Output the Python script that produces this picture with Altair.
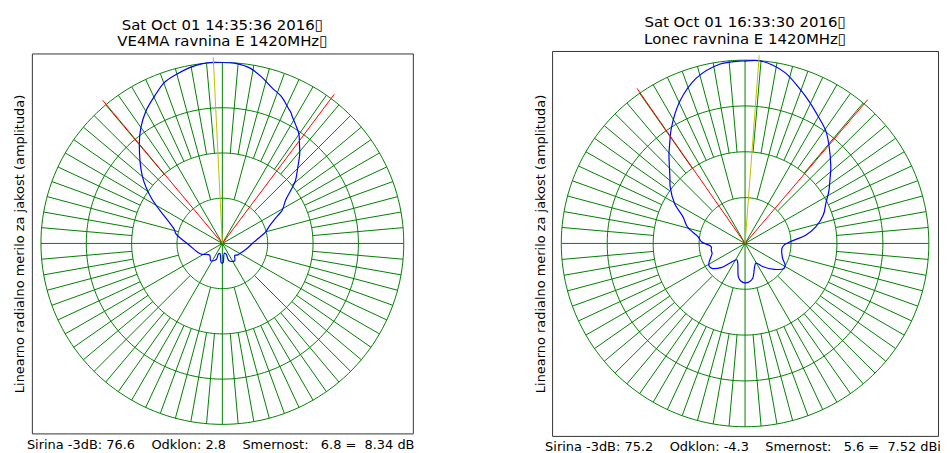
import altair as alt
import numpy as np
import pandas as pd

# ---------------- data ----------------
YLABEL = "Linearno radialno merilo za jakost (amplituda)"

left_title = ["Sat Oct 01 14:35:36 2016\u25af", "VE4MA ravnina E 1420MHz\u25af"]
left_stats = "Sirina -3dB: 76.6\u00a0\u00a0\u00a0\u00a0Odklon: 2.8\u00a0\u00a0\u00a0\u00a0Smernost:\u00a0\u00a0\u00a06.8 =\u00a0\u00a08.34 dB"
# angle in degrees, clockwise from north; r in linear amplitude units (0..4)
left_theta = [0, 4.2, 9.1, 13.5, 17.7, 21.8, 26.3, 27.5, 28.6, 31.4, 34.9, 37.7, 40.8, 44.6,
              49.2, 51.0, 55.6, 60.9, 63.4, 70.3, 74.9, 81.2, 90, 101, 112.6, 127.9, 133.5,
              144.6, 159.3, 160.5, 168.7, 178, 183, 193, 200, 201, 214, 227.4, 243.8, 267,
              282, 286, 302.5, 309.8, 320.2, 325, 330.1, 336, 340.2, 344.6, 349.3, 353.7,
              357.2, 360]
left_r = [4.00, 3.99, 3.92, 3.77, 3.61, 3.50, 3.31, 3.27, 3.21, 3.09, 2.95, 2.78, 2.61, 2.37,
          2.13, 2.00, 1.69, 1.51, 1.36, 1.09, 0.99, 0.82, 0.66, 0.56, 0.48, 0.42, 0.38,
          0.47, 0.41, 0.25, 0.22, 0.43, 0.43, 0.23, 0.25, 0.38, 0.46, 0.38, 0.53, 0.73,
          1.05, 1.10, 1.85, 2.29, 2.86, 3.13, 3.38, 3.61, 3.78, 3.87, 3.95, 4.00,
          4.01, 4.00]
left_max_angle = -2.8          # yellow line (Odklon 2.8, to the left)
left_red_angles = [-39.8, 36.8]  # -3 dB directions

right_title = ["Sat Oct 01 16:33:30 2016\u25af", "Lonec ravnina E 1420MHz\u25af"]
right_stats = "Sirina -3dB: 75.2\u00a0\u00a0\u00a0\u00a0Odklon: -4.3\u00a0\u00a0\u00a0\u00a0Smernost:\u00a0\u00a0\u00a05.6 =\u00a0\u00a07.52 dBi"
right_theta = [0, 4.3, 8.7, 13.4, 19.1, 24.2, 30.4, 35.6, 40.1, 48.3, 52.0, 57.7, 63.7, 69.7,
               76.8, 82.2, 86.1, 92.4, 97.7, 111.7, 118.2, 122.8, 131.6, 142.9, 151.2, 159.5,
               167.6, 173.6, 180, 186, 191.1, 200.1, 206.6, 218.1, 224.6, 233.7, 239.2, 246.8,
               253.1, 258.9, 264.4, 272.2, 278, 285.8, 293.2, 299.5, 307, 311.4, 319.7, 322.9,
               327.6, 335.4, 343.6, 351.9, 358.2, 360]
right_r = [3.98, 4.00, 3.94, 3.82, 3.59, 3.40, 3.18, 3.02, 2.83, 2.50, 2.35, 2.16, 1.96, 1.82,
           1.58, 1.33, 1.07, 0.85, 0.81, 0.88, 0.99, 1.01, 0.85, 0.63, 0.49, 0.58,
           0.78, 0.84, 0.86, 0.83, 0.75, 0.46, 0.40, 0.55, 0.74, 0.91, 0.92, 0.82,
           0.75, 0.75, 0.74, 0.95, 1.03, 1.30, 1.47, 1.76, 2.04, 2.18, 2.56, 2.72,
           2.99, 3.41, 3.76, 3.95, 3.98, 3.98]
right_max_angle = 4.3
right_red_angles = [-34.8, 40.4]

LINE_LEN = 4.12
RINGS = [1, 2, 3, 4]
SPOKE_STEP = 5

# ---------------- helpers ----------------
def polar_df(theta, r):
    t = np.radians(np.asarray(theta, dtype=float))
    rr = np.asarray(r, dtype=float)
    return pd.DataFrame({"x": rr * np.sin(t), "y": rr * np.cos(t), "i": np.arange(len(rr))})


def grid_frames():
    rows = []
    for k, rad in enumerate(RINGS):
        a = np.radians(np.arange(0, 361, 2))
        for j, aa in enumerate(a):
            rows.append({"ring": k, "i": j, "x": rad * np.sin(aa), "y": rad * np.cos(aa)})
    rings = pd.DataFrame(rows)
    sp = []
    for ang in range(0, 360, SPOKE_STEP):
        if ang % 30 == 0:
            r0 = 0
        elif ang % 15 == 0:
            r0 = 1
        else:
            r0 = 2
        t = np.radians(ang)
        sp.append({"x": r0 * np.sin(t), "y": r0 * np.cos(t),
                   "x2": 4 * np.sin(t), "y2": 4 * np.cos(t)})
    return rings, pd.DataFrame(sp)


def panel(title, theta, r, ymax_ang, red_angs, stats, w, h, text_dx):
    sc = alt.Scale(domain=[-4.2, 4.2], nice=False, zero=False)
    yaxis = alt.Axis(title=YLABEL, labels=False, ticks=False, domain=False, grid=False,
                     titleFontSize=13, titleFontWeight="normal", titleFont="DejaVu Sans",
                     titleColor="black", titlePadding=5)
    X = alt.X("x:Q", scale=sc, axis=None)
    Y = alt.Y("y:Q", scale=sc, axis=yaxis)

    rings, spokes = grid_frames()
    ring_layer = alt.Chart(rings).mark_line(color="#008000", strokeWidth=1).encode(
        x=X, y=Y, detail="ring:N", order="i:Q")
    spoke_layer = alt.Chart(spokes).mark_rule(color="#008000", strokeWidth=1).encode(
        x=X, y=Y, x2="x2:Q", y2="y2:Q")

    lines = []
    for ang in red_angs:
        t = np.radians(ang)
        lines.append({"x": 0.0, "y": 0.0, "x2": LINE_LEN * np.sin(t), "y2": LINE_LEN * np.cos(t), "c": "red"})
    t = np.radians(ymax_ang)
    lines.append({"x": 0.0, "y": 0.0, "x2": LINE_LEN * np.sin(t), "y2": LINE_LEN * np.cos(t), "c": "yellow"})
    ldf = pd.DataFrame(lines)
    line_layer = alt.Chart(ldf).mark_rule(strokeWidth=1).encode(
        x=X, y=Y, x2="x2:Q", y2="y2:Q",
        color=alt.Color("c:N", scale=alt.Scale(domain=["red", "yellow"], range=["#ff0000", "#bfbf00"]),
                        legend=None))

    curve = alt.Chart(polar_df(theta, r)).mark_line(
        color="#0000ff", strokeWidth=1.2, interpolate="catmull-rom").encode(
        x=X, y=Y, order="i:Q")

    txt = alt.Chart(pd.DataFrame({"t": [stats]})).mark_text(
        align="left", baseline="alphabetic", fontSize=13, font="DejaVu Sans", color="black"
    ).encode(x=alt.value(text_dx), y=alt.value(h + 15.5), text="t:N")

    return alt.layer(spoke_layer, ring_layer, curve, line_layer, txt).properties(
        width=w, height=h,
        title=alt.TitleParams(text=title, fontSize=15, fontWeight="normal", font="DejaVu Sans",
                              color="black", lineHeight=17, offset=4, frame="group"))


left = panel(left_title, left_theta, left_r, left_max_angle, left_red_angles, left_stats, 383, 382, -5)
right = panel(right_title, right_theta, right_r, right_max_angle, right_red_angles, right_stats, 388, 387, -7)

chart = alt.hconcat(left, right, spacing=118, center=True).configure_view(
    stroke="#333333", strokeWidth=1
).properties(padding={"left": 5, "top": 5, "right": 0, "bottom": 0})

chart.save("out.html", embed_options={"renderer": "svg", "actions": False})
